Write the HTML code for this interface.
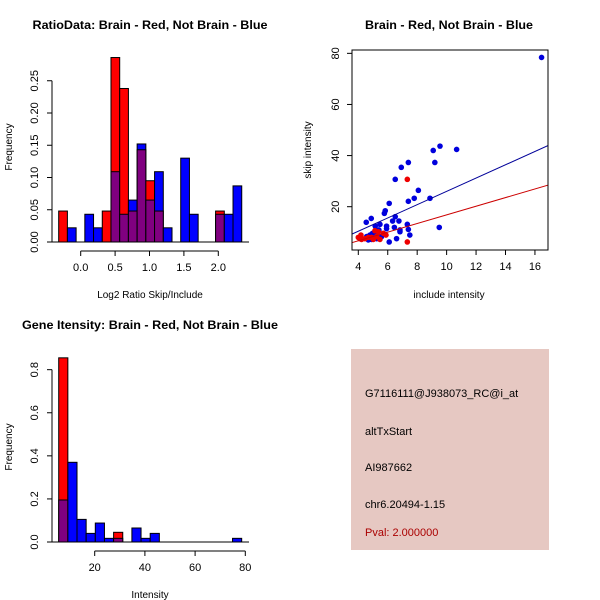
<!DOCTYPE html>
<html><head><meta charset="utf-8"><style>
body{margin:0;background:#fff}
svg{display:block;font-family:"Liberation Sans",Arial,sans-serif}
</style></head><body>
<svg id="c" width="600" height="600" viewBox="0 0 600 600">
<rect width="600" height="600" fill="#fff"/>
</svg>
<script>
// ---- Ratio histogram data ----
const ratioStart = -0.32;
const ratioBinW = 0.1267;
const ratioRed = [0.048,0,0,0,0,0.048,0.286,0.238,0.048,0.143,0.095,0.048,0,0,0,0,0,0,0.048,0,0];
const ratioBlue = [0,0.022,0,0.043,0.022,0,0.109,0.043,0.065,0.152,0.065,0.109,0.022,0,0.130,0.043,0,0,0.043,0.043,0.087];
const ratioXTicks = [0.0,0.5,1.0,1.5,2.0];
const ratioXTickLabels = ["0.0","0.5","1.0","1.5","2.0"];
const ratioYTicks = [0,0.05,0.10,0.15,0.20,0.25];
const ratioYTickLabels = ["0.00","0.05","0.10","0.15","0.20","0.25"];
// ---- Scatter data ----
const blueX = [16.45,9.55,9.09,10.68,9.2,7.4,6.92,6.51,8.08,7.8,7.4,8.87,6.1,5.83,5.77,6.51,4.88,4.54,6.33,6.76,7.33,5.47,5.15,5.92,6.45,5.92,7.4,9.5,5.4,6.83,6.83,5.2,4.97,7.5,5.58,4.79,4.57,6.6,6.1,5.25,4.9,4.68];
const blueY = [78.4,43.7,42.0,42.4,37.3,37.3,35.4,30.7,26.4,23.3,22.1,23.3,21.3,18.4,17.4,16.1,15.4,13.9,14.4,14.4,13.1,13.1,12.4,12.4,11.9,11.4,11.1,11.9,10.9,10.9,10.2,10.2,9.6,8.9,8.3,8.9,8.3,7.5,6.2,7.5,7.2,7.0];
const redX = [7.33,7.33,4.0,4.18,4.22,4.45,4.68,5.02,5.25,5.36,5.7,5.88,5.47,4.9,4.1,5.13];
const redY = [30.7,6.2,8.0,8.9,7.2,7.5,8.0,7.2,8.3,10.2,9.6,8.9,7.2,8.0,7.5,10.6];
const fitBlue = [-0.0, 2.6];   // intercept, slope
const fitRed = [-0.1, 1.69];
const scXTicks = [4,6,8,10,12,14,16];
const scYTicks = [20,40,60,80];
// ---- Intensity histogram data ----
const intStart = 5.66;
const intBinW = 3.645;
const intRed = [0.855,0,0,0,0,0,0.045,0,0,0,0,0,0,0,0,0,0,0,0,0];
const intBlue = [0.195,0.37,0.105,0.04,0.088,0.017,0.017,0,0.065,0.017,0.04,0,0,0,0,0,0,0,0,0.017];
const intXTicks = [20,40,60,80];
const intYTicks = [0,0.2,0.4,0.6,0.8];
const intYTickLabels = ["0.0","0.2","0.4","0.6","0.8"];
// ---- Info panel ----
const infoLines = ["G7116111@J938073_RC@i_at","altTxStart","AI987662","chr6.20494-1.15","Pval: 2.000000"];

const NS="http://www.w3.org/2000/svg";
const svg=document.getElementById('c');
function mk(tag,attrs,parent){const e=document.createElementNS(NS,tag);for(const k in attrs)e.setAttribute(k,attrs[k]);(parent||svg).appendChild(e);return e;}
function txt(s,x,y,attrs,parent){const e=mk('text',Object.assign({x:x,y:y,'font-size':11,fill:'#000','text-anchor':'middle'},attrs||{}),parent);e.textContent=s;return e;}

function histogram(name,g,start,bw,red,blue,sx,sy,xTicks,xLabels,yTicks,yLabels,opts){
  const grp=mk('g',{},svg);
  
  
  for(let i=0;i<red.length;i++){
    const x0=sx(start+i*bw),x1=sx(start+(i+1)*bw);
    const r=red[i],b=blue[i];
    const lo=Math.min(r,b),hi=Math.max(r,b);
    if(hi>0){
      const e=mk('rect',{x:x0,y:sy(hi),width:x1-x0,height:sy(0)-sy(hi),fill:r>b?'#ff0000':'#0000ff',stroke:'#000','stroke-width':1},grp);
      
      
    }
    if(lo>0){
      const e=mk('rect',{x:x0,y:sy(lo),width:x1-x0,height:sy(0)-sy(lo),fill:'#800080',stroke:'#000','stroke-width':1},grp);
      
      
    }
  }
  mk('line',{x1:opts.axX,x2:opts.baseEnd,y1:sy(0),y2:sy(0),stroke:'#000'},grp);
  // x axis
  const xa=mk('g',{},grp);
  
  
  mk('line',{x1:sx(xTicks[0]),x2:sx(xTicks[xTicks.length-1]),y1:opts.axY,y2:opts.axY,stroke:'#000'},xa);
  xTicks.forEach((t,i)=>{mk('line',{x1:sx(t),x2:sx(t),y1:opts.axY,y2:opts.axY+5,stroke:'#000'},xa);txt(xLabels[i],sx(t),opts.axY+20,{},xa);});
  const ya=mk('g',{},grp);
  
  
  mk('line',{x1:opts.axX,x2:opts.axX,y1:sy(yTicks[0]),y2:sy(yTicks[yTicks.length-1]),stroke:'#000'},ya);
  yTicks.forEach((t,i)=>{mk('line',{x1:opts.axX,x2:opts.axX-5,y1:sy(t),y2:sy(t),stroke:'#000'},ya);txt(yLabels[i],opts.axX-14,sy(t),{transform:`rotate(-90 ${opts.axX-14} ${sy(t)})`},ya);});
}

// Panel 1
{
  const sx=v=>80.7+v*68.8, sy=v=>242-v*645;
  const t=txt("RatioData: Brain - Red, Not Brain - Blue",150,29,{'font-weight':'bold','font-size':12,textLength:235,lengthAdjust:'spacingAndGlyphs'});
  
  histogram('ratio-histogram',null,ratioStart,ratioBinW,ratioRed,ratioBlue,sx,sy,ratioXTicks,ratioXTickLabels,ratioYTicks,ratioYTickLabels,{axX:52,axY:251,baseEnd:249});
  const xl=txt("Log2 Ratio Skip/Include",150,298,{'font-size':10});
  
  const yl=txt("Frequency",12,147,{'font-size':10,transform:'rotate(-90 12 147)'});
  
}
// Panel 2 scatter
{
  const sx=v=>358.3+(v-4)*14.72, sy=v=>206.7-(v-20)*2.556;
  const L=352,R=548,T=50,B=250;
  const t=txt("Brain - Red, Not Brain - Blue",449,29,{'font-weight':'bold','font-size':12,textLength:168,lengthAdjust:'spacingAndGlyphs'});
  
  const g=mk('g',{});
  
  const cp=mk('clipPath',{id:'scclip'},g);mk('rect',{x:L,y:T,width:R-L,height:B-T},cp);
  const pts=mk('g',{'clip-path':'url(#scclip)'},g);
  blueX.forEach((x,i)=>{const c=mk('circle',{cx:sx(x),cy:sy(blueY[i]),r:2.8,fill:'#0000dd'},pts);});
  redX.forEach((x,i)=>{const c=mk('circle',{cx:sx(x),cy:sy(redY[i]),r:2.8,fill:'#ee0000'},pts);});
  const xa=3.5,xb=17.2;
  const lb=mk('line',{x1:sx(xa),y1:sy(fitBlue[0]+fitBlue[1]*xa),x2:sx(xb),y2:sy(fitBlue[0]+fitBlue[1]*xb),stroke:'#000099','stroke-width':1},pts);
  
  const lr=mk('line',{x1:sx(xa),y1:sy(fitRed[0]+fitRed[1]*xa),x2:sx(xb),y2:sy(fitRed[0]+fitRed[1]*xb),stroke:'#cc0000','stroke-width':1},pts);
  
  mk('rect',{x:L,y:T,width:R-L,height:B-T,fill:'none',stroke:'#000'},g);
  scXTicks.forEach(t=>{mk('line',{x1:sx(t),x2:sx(t),y1:B,y2:B+5,stroke:'#000'},g);txt(String(t),sx(t),B+20,{},g);});
  scYTicks.forEach(t=>{mk('line',{x1:L,x2:L-5,y1:sy(t),y2:sy(t),stroke:'#000'},g);txt(String(t),L-13,sy(t),{transform:`rotate(-90 ${L-13} ${sy(t)})`},g);});
  const xl=txt("include intensity",449,298,{'font-size':10});
  
  const yl=txt("skip intensity",311,150,{'font-size':10,transform:'rotate(-90 311 150)'});
  
}
// Panel 3
{
  const sx=v=>94.7+(v-20)*2.51, sy=v=>542-v*215.4;
  const t=txt("Gene Itensity: Brain - Red, Not Brain - Blue",150,329,{'font-weight':'bold','font-size':12,textLength:256,lengthAdjust:'spacingAndGlyphs'});
  
  histogram('intensity-histogram',null,intStart,intBinW,intRed,intBlue,sx,sy,intXTicks,intXTicks.map(String),intYTicks,intYTickLabels,{axX:52,axY:551,baseEnd:249});
  const xl=txt("Intensity",150,598,{'font-size':10});
  
  const yl=txt("Frequency",12,447,{'font-size':10,transform:'rotate(-90 12 447)'});
  
}
// Panel 4 info
{
  const g=mk('g',{});
  
  mk('rect',{x:351,y:349,width:198,height:201,fill:'#e6c8c2'},g);
  const ys=[397,435,471,508,536];
  infoLines.forEach((s,i)=>{const e=txt(s,365,ys[i],{'text-anchor':'start','font-size':11,fill:i===4?'#aa0000':'#000'},g);});
}
</script>
</body></html>
